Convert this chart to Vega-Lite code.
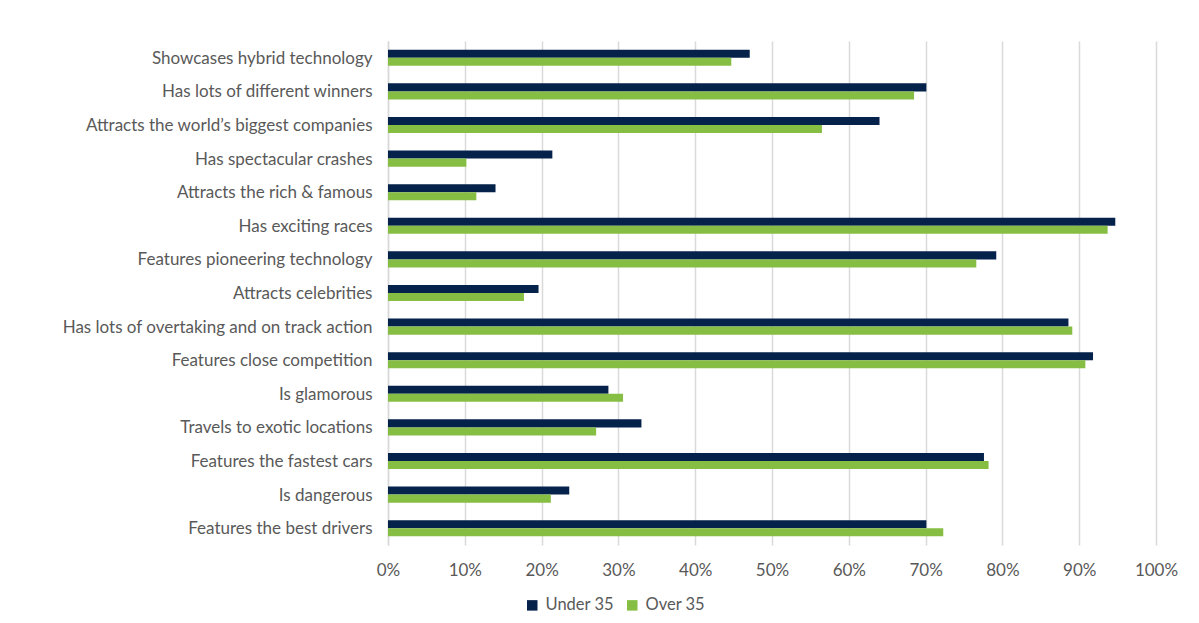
{
  "$schema": "https://vega.github.io/schema/vega-lite/v6.json",
  "autosize": {"type": "none"},
  "width": 768,
  "height": 504,
  "padding": {"left": 388, "top": 41, "right": 43, "bottom": 78},
  "background": "white",
  "data": {"values": [
    {"item": "Showcases hybrid technology", "group": "Under 35", "value": 0.471},
    {"item": "Showcases hybrid technology", "group": "Over 35", "value": 0.447},
    {"item": "Has lots of different winners", "group": "Under 35", "value": 0.701},
    {"item": "Has lots of different winners", "group": "Over 35", "value": 0.685},
    {"item": "Attracts the world’s biggest companies", "group": "Under 35", "value": 0.640},
    {"item": "Attracts the world’s biggest companies", "group": "Over 35", "value": 0.565},
    {"item": "Has spectacular crashes", "group": "Under 35", "value": 0.214},
    {"item": "Has spectacular crashes", "group": "Over 35", "value": 0.102},
    {"item": "Attracts the rich & famous", "group": "Under 35", "value": 0.140},
    {"item": "Attracts the rich & famous", "group": "Over 35", "value": 0.115},
    {"item": "Has exciting races", "group": "Under 35", "value": 0.947},
    {"item": "Has exciting races", "group": "Over 35", "value": 0.937},
    {"item": "Features pioneering technology", "group": "Under 35", "value": 0.792},
    {"item": "Features pioneering technology", "group": "Over 35", "value": 0.766},
    {"item": "Attracts celebrities", "group": "Under 35", "value": 0.196},
    {"item": "Attracts celebrities", "group": "Over 35", "value": 0.177},
    {"item": "Has lots of overtaking and on track action", "group": "Under 35", "value": 0.886},
    {"item": "Has lots of overtaking and on track action", "group": "Over 35", "value": 0.891},
    {"item": "Features close competition", "group": "Under 35", "value": 0.918},
    {"item": "Features close competition", "group": "Over 35", "value": 0.908},
    {"item": "Is glamorous", "group": "Under 35", "value": 0.287},
    {"item": "Is glamorous", "group": "Over 35", "value": 0.306},
    {"item": "Travels to exotic locations", "group": "Under 35", "value": 0.330},
    {"item": "Travels to exotic locations", "group": "Over 35", "value": 0.271},
    {"item": "Features the fastest cars", "group": "Under 35", "value": 0.776},
    {"item": "Features the fastest cars", "group": "Over 35", "value": 0.782},
    {"item": "Is dangerous", "group": "Under 35", "value": 0.236},
    {"item": "Is dangerous", "group": "Over 35", "value": 0.212},
    {"item": "Features the best drivers", "group": "Under 35", "value": 0.701},
    {"item": "Features the best drivers", "group": "Over 35", "value": 0.723}
  ]},
  "mark": {"type": "bar"},
  "encoding": {
    "y": {
      "field": "item", "type": "nominal", "sort": null,
      "scale": {"paddingInner": 0.52, "paddingOuter": 0.26},
      "axis": {"title": null, "ticks": false, "domain": true, "domainColor": "#d9d9d9", "domainWidth": 1.5, "labelPadding": 16, "labelFont": "Lato", "labelFontSize": 17, "labelColor": "#595959", "labelLimit": 400, "labelBaseline": "middle", "labelOffset": 1}
    },
    "yOffset": {"field": "group", "type": "nominal", "sort": ["Under 35", "Over 35"], "scale": {"paddingInner": 0, "paddingOuter": 0}},
    "x": {
      "field": "value", "type": "quantitative",
      "scale": {"domain": [0, 1], "nice": false},
      "axis": {"title": null, "format": ".0%", "values": [0, 0.1, 0.2, 0.3, 0.4, 0.5, 0.6, 0.7, 0.8, 0.9, 1], "ticks": false, "domain": false, "grid": true, "gridColor": "#d9d9d9", "gridWidth": 1.5, "labelFlush": false, "labelPadding": 17, "labelFont": "Lato", "labelFontSize": 17, "labelColor": "#595959"}
    },
    "color": {
      "field": "group", "type": "nominal",
      "scale": {"domain": ["Under 35", "Over 35"], "range": ["#05224a", "#85be42"]},
      "legend": {"title": null, "orient": "none", "direction": "horizontal", "legendX": 136, "legendY": 556, "symbolType": "square", "symbolSize": 110, "symbolOpacity": 1, "labelFont": "Lato", "labelFontSize": 16.5, "labelColor": "#595959", "columnPadding": 10, "labelOffset": 5}
    }
  },
  "config": {"view": {"stroke": null}}
}
